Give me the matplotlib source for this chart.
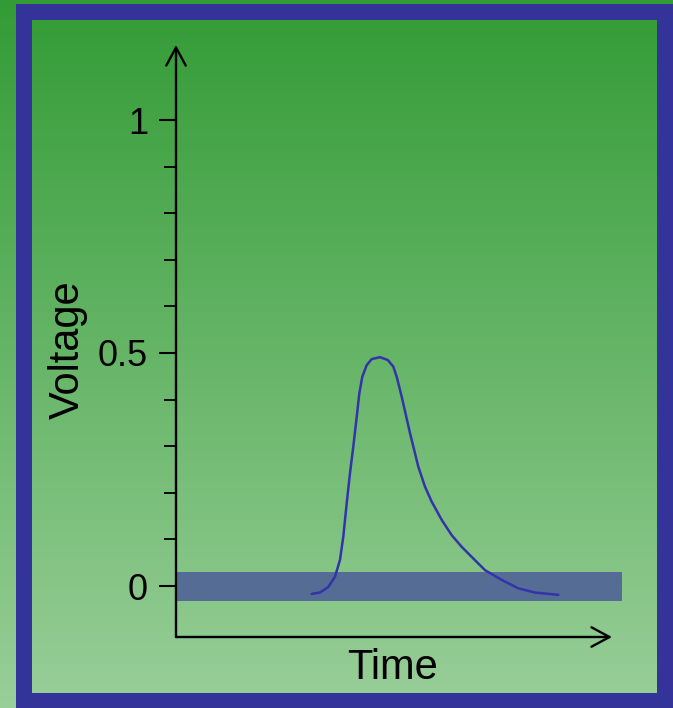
import numpy as np
import matplotlib
matplotlib.use("Agg")
import matplotlib.pyplot as plt
from matplotlib.patches import Rectangle

plt.rcParams['font.family'] = ['Liberation Sans', 'DejaVu Sans']

# Pulse waveform (time in arbitrary units, voltage in volts)
time = [3.043, 3.229, 3.415, 3.565, 3.677, 3.751, 3.827, 3.901, 3.975,
        4.052, 4.110, 4.177, 4.276, 4.388, 4.574, 4.747, 4.872, 4.948,
        5.061, 5.247, 5.433, 5.583, 5.733, 5.957, 6.182, 6.406, 6.666,
        6.928, 7.303, 7.675, 8.049, 8.572]
voltage = [-0.017, -0.014, -0.002, 0.020, 0.056, 0.106, 0.177, 0.242, 0.299,
           0.363, 0.413, 0.449, 0.474, 0.487, 0.491, 0.485, 0.471, 0.449,
           0.406, 0.328, 0.256, 0.213, 0.181, 0.142, 0.109, 0.084, 0.059,
           0.034, 0.013, -0.005, -0.014, -0.019]

# Noise band around zero
band_low, band_high = -0.033, 0.031

major_ticks = [0, 0.5, 1]
major_labels = ["0", "0.5", "1"]
minor_ticks = [0.1, 0.2, 0.3, 0.4, 0.6, 0.7, 0.8, 0.9]

W, H = 673, 708
fig = plt.figure(figsize=(W / 100, H / 100), dpi=100)

# Background gradient and frame
bg = fig.add_axes([0, 0, 1, 1], zorder=0)
top = np.array([0.20, 0.61, 0.21])
bot = np.array([0.60, 0.81, 0.60])
f = np.linspace(0, 1, 256)[:, None]
grad = (top[None, :] * (1 - f) + bot[None, :] * f)[:, None, :]
bg.imshow(grad, extent=[0, W, H, 0], aspect='auto', interpolation='bilinear')
bg.set_xlim(0, W)
bg.set_ylim(H, 0)
bg.axis('off')
frame = '#333399'
for (x0, y0, w, h) in [(16, 4, 657, 16), (16, 693, 657, 15),
                       (16, 4, 16, 704), (657, 4, 16, 704)]:
    bg.add_patch(Rectangle((x0, y0), w, h, facecolor=frame, edgecolor='none'))

# Main plot area
x_left, x_right, y_top, y_bottom = 176, 622, 45, 637
ax = fig.add_axes([x_left / W, 1 - y_bottom / H,
                   (x_right - x_left) / W, (y_bottom - y_top) / H], zorder=1)
ax.patch.set_alpha(0)
y0px, px_per_v = 586, 466
ymin = -(y_bottom - y0px) / px_per_v
ymax = (y0px - y_top) / px_per_v
ax.set_xlim(0, 10)
ax.set_ylim(ymin, ymax)
for s in ax.spines.values():
    s.set_visible(False)

ax.axhspan(band_low, band_high, facecolor='#556D94', edgecolor='none', zorder=2)
ax.plot(time, voltage, color='#3333AA', lw=1.8, zorder=3,
        solid_capstyle='round', solid_joinstyle='round')

# Axes with arrowheads
arrow = dict(arrowstyle='->,head_length=1.3,head_width=0.7', lw=1.7,
             color='black', shrinkA=0, shrinkB=0)
ax.annotate('', xy=(0, ymax), xytext=(0, ymin), arrowprops=arrow,
            annotation_clip=False)
ax.annotate('', xy=((612 - x_left) / 44.6, ymin), xytext=(0, ymin),
            arrowprops=arrow, annotation_clip=False)

ax.set_xticks([])
ax.set_yticks(major_ticks)
ax.set_yticklabels(major_labels)
ax.set_yticks(minor_ticks, minor=True)
ax.tick_params(axis='y', which='major', length=12.2, width=1.5,
               labelsize=26, pad=8)
ax.tick_params(axis='y', which='minor', length=8.6, width=1.3)

fig.text(68 / W, 1 - 350 / H, 'Voltage', rotation=90, fontsize=30,
         ha='center', va='center')
fig.text(392 / W, 1 - 668 / H, 'Time', fontsize=30, ha='center', va='center')

fig.savefig('out.png', dpi=100)
